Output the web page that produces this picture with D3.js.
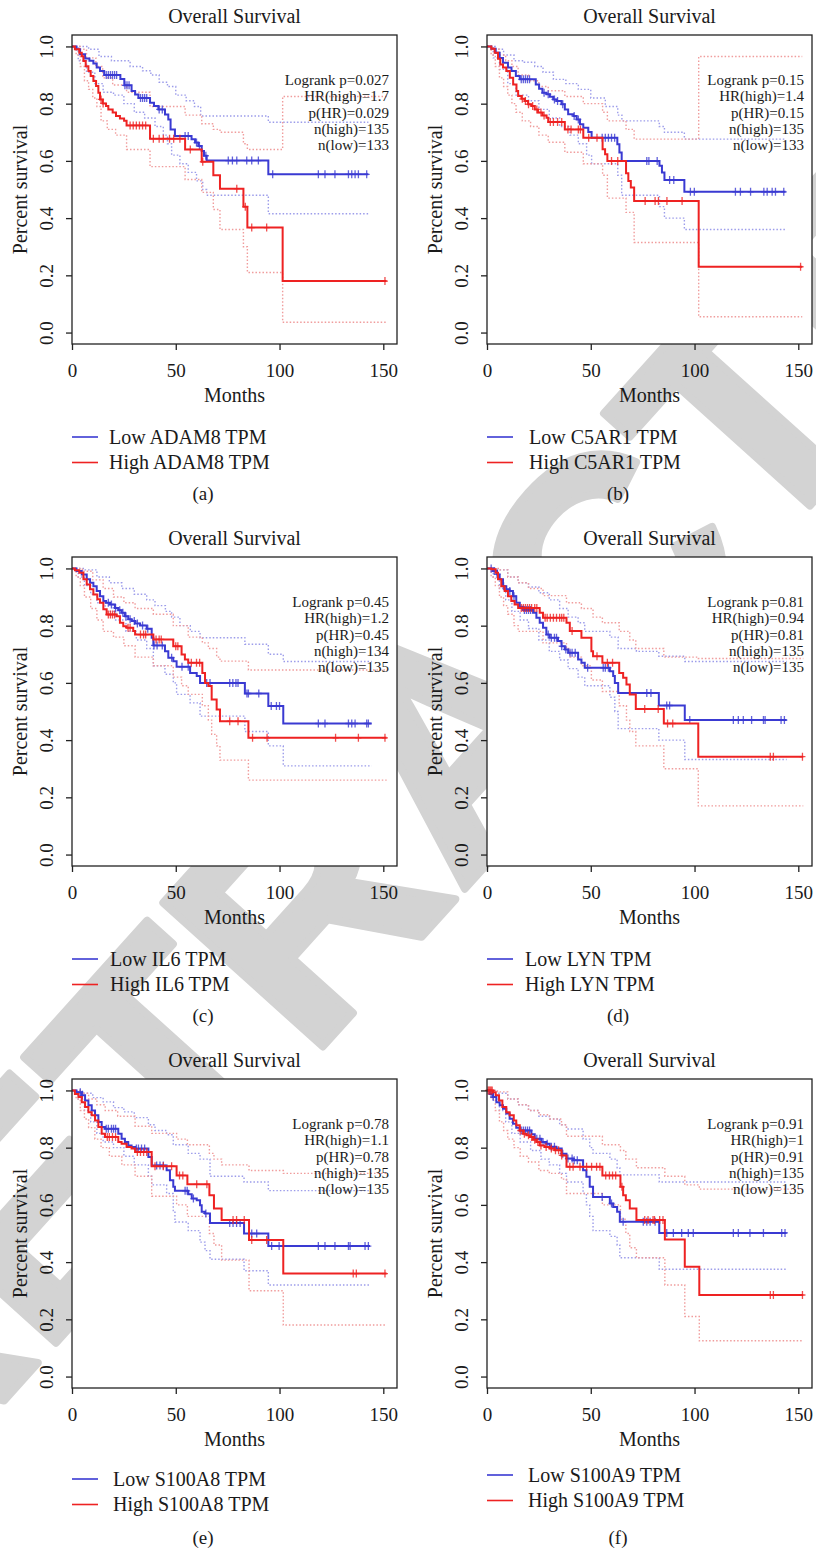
<!DOCTYPE html>
<html><head><meta charset="utf-8">
<script src="https://cdn.jsdelivr.net/npm/d3@7"></script>
<style>html,body{margin:0;padding:0;background:#fff;}svg{display:block;}</style>
</head><body>
<script>
// ---------------- DATA ----------------
const genes = ["ADAM8","C5AR1","IL6","LYN","S100A8","S100A9"];
const captions = ["(a)","(b)","(c)","(d)","(e)","(f)"];
const logrankP = ["0.027","0.15","0.45","0.81","0.78","0.91"];
const hrHigh = ["1.7","1.4","1.2","0.94","1.1","1"];
const pHR = ["0.029","0.15","0.45","0.81","0.78","0.91"];
const nHigh = [135,135,134,135,135,135];
const nLow = [133,133,135,135,135,135];
const xTicks = [0,50,100,150];
const yTicks = [0,0.2,0.4,0.6,0.8,1.0];

// (a) ADAM8
const aLow = [[0,1],[2.2,0.99],[3.9,0.973],[6.3,0.958],[8.4,0.95],[10.3,0.94],[11.9,0.926],[13.5,0.914],[15.5,0.9],[23.3,0.886],[25.2,0.864],[28.7,0.844],[30.4,0.832],[32,0.82],[37.6,0.803],[39.5,0.792],[41.6,0.78],[44.8,0.762],[46.4,0.745],[47.5,0.71],[49.6,0.687],[57.6,0.676],[59.3,0.664],[60.9,0.652],[62.5,0.635],[63.6,0.618],[64.9,0.601],[94.6,0.553],[142.8,0.553]];
const aHigh = [[0,1],[1.4,0.99],[3.5,0.978],[4.7,0.966],[5.5,0.949],[6.6,0.931],[7.9,0.914],[9,0.897],[10.3,0.879],[11.6,0.862],[12.7,0.838],[13.5,0.815],[14.8,0.801],[16.4,0.792],[17.5,0.78],[19.6,0.769],[21.2,0.757],[23.1,0.748],[25.1,0.74],[26.3,0.724],[37.6,0.677],[54.5,0.64],[62.5,0.597],[68.1,0.55],[71.3,0.503],[82.6,0.44],[84.5,0.367],[101.5,0.18],[151.6,0.18]];
const aLowUp = [[0,1],[8,0.99],[13,0.965],[19,0.95],[28,0.93],[34,0.915],[38,0.9],[42,0.875],[46,0.86],[50,0.83],[55,0.81],[59,0.79],[62,0.757],[94.6,0.735],[142.8,0.735]];
const aLowLo = [[0,1],[3,0.95],[7,0.91],[11,0.87],[15,0.84],[20,0.83],[25,0.8],[30,0.77],[35,0.75],[40,0.72],[44,0.69],[46,0.66],[48,0.62],[52,0.59],[56,0.56],[60,0.53],[63,0.5],[64.9,0.48],[94.6,0.415],[142.8,0.415]];
const aHighUp = [[0,1],[4,0.99],[7,0.96],[11.5,0.93],[14.8,0.89],[19.6,0.865],[26.3,0.84],[37.6,0.79],[54.5,0.76],[62.5,0.73],[68.1,0.71],[71.3,0.7],[82.6,0.66],[84.5,0.64],[101.5,0.825],[151.6,0.825]];
const aHighLo = [[0,1],[2,0.97],[4,0.93],[6,0.88],[8,0.85],[10,0.82],[12,0.79],[14,0.74],[17,0.71],[21,0.69],[26.3,0.64],[37.6,0.58],[54.5,0.535],[62.5,0.49],[68.1,0.43],[71.3,0.36],[82.6,0.3],[84.5,0.21],[101.5,0.036],[151.6,0.036]];
const aLowCens = [16.5,17.5,18.5,19.5,20.5,21.5,25.5,26.5,27.5,33,34,35,36,42,43.5,54.5,56,60,61.4,64.5,75.3,77.3,79.4,84.2,86.6,89.8,96.7,118.7,121.9,126.7,133.2,134.8,136.4,138,142];
const aHighCens = [14,15,28,29.5,31,32.5,34,35.5,39.2,42,44,47,49,52,57,63,79.4,83.5,86.6,93.8,150.8];

// (b) C5AR1
const bLow = [[0,1],[2.1,0.992],[4.2,0.978],[6.1,0.96],[7.7,0.943],[10.1,0.926],[11.8,0.914],[13.9,0.897],[15.8,0.885],[23.5,0.867],[25.1,0.852],[26.7,0.838],[28.7,0.833],[30.3,0.824],[31.9,0.815],[33.5,0.809],[35.9,0.798],[37.5,0.78],[39.1,0.763],[41.6,0.757],[43.2,0.745],[44.8,0.728],[46.4,0.716],[48.8,0.701],[50.4,0.681],[62.8,0.658],[63.8,0.629],[64.9,0.6],[83.1,0.583],[84.3,0.559],[85.5,0.533],[95.1,0.492],[143.9,0.492]];
const bHigh = [[0,1],[2.1,0.992],[3.7,0.978],[5.3,0.957],[6.4,0.937],[7.7,0.926],[9.3,0.914],[11,0.891],[12.6,0.867],[14.2,0.844],[15,0.827],[16.6,0.817],[18.2,0.809],[19.8,0.798],[21.4,0.792],[23,0.78],[24.6,0.769],[26.7,0.759],[28.7,0.751],[29.5,0.736],[37.5,0.71],[46.4,0.681],[55.7,0.641],[56.9,0.623],[58,0.6],[67,0.557],[68.1,0.53],[69.3,0.507],[70.9,0.46],[102,0.23],[151.9,0.23]];
const bLowUp = [[0,1],[4,0.99],[8,0.97],[13,0.95],[18,0.945],[23,0.93],[27,0.91],[32,0.885],[38,0.87],[44,0.85],[50,0.82],[57,0.79],[63,0.76],[65,0.74],[83,0.72],[85.5,0.7],[95.1,0.676],[143.9,0.676]];
const bLowLo = [[0,1],[3,0.96],[6,0.92],[10,0.87],[14,0.83],[20,0.81],[25,0.78],[30,0.75],[35,0.72],[40,0.69],[44,0.66],[48,0.62],[50.4,0.59],[63,0.55],[64.9,0.48],[83.1,0.44],[85.5,0.4],[95.1,0.36],[143.9,0.36]];
const bHighUp = [[0,1],[3,0.99],[6,0.97],[9,0.95],[12,0.93],[15,0.9],[20,0.88],[25,0.86],[29.5,0.845],[37.5,0.825],[46.4,0.8],[55.7,0.77],[58,0.74],[67,0.71],[70.9,0.676],[102,0.965],[151.9,0.965]];
const bHighLo = [[0,1],[2,0.97],[4,0.93],[6,0.89],[8,0.86],[10,0.83],[12,0.8],[14,0.77],[17,0.74],[21,0.72],[25,0.69],[29.5,0.665],[37.5,0.63],[46.4,0.59],[55.7,0.55],[58,0.47],[67,0.42],[70.9,0.315],[102,0.055],[151.9,0.055]];
const bLowCens = [16.5,17.5,18.5,19.5,20.5,27.5,29.5,32.5,34,36.5,42,44,55.5,57,58.5,60,61.5,77,78,82,88,90,98,99.9,119.7,122.1,127,133.4,135,137.4,139,143];
const bHighCens = [17,18.5,20,22,24,26,27.5,30.5,32,34,36,39,40.5,44,45,49,53,60,63,76.2,81,82.6,86.7,94,151.1];

// (c) IL6
const cLow = [[0,1],[2.2,0.991],[4.7,0.979],[7.1,0.962],[8.7,0.95],[10.3,0.938],[11.9,0.921],[13.5,0.903],[15.1,0.886],[16.4,0.88],[18.3,0.874],[20.7,0.862],[22.3,0.854],[23.9,0.845],[25.5,0.833],[27.1,0.822],[28.7,0.816],[30.4,0.808],[32.8,0.801],[36,0.789],[38.4,0.758],[39.2,0.731],[44.8,0.711],[46.4,0.688],[48.8,0.676],[50.4,0.656],[56.9,0.635],[60.1,0.624],[61.7,0.6],[83.3,0.563],[94.6,0.519],[101.8,0.458],[144.4,0.458]];
const cHigh = [[0,1],[1.4,0.994],[3.5,0.985],[5.5,0.962],[7.1,0.944],[8.7,0.927],[10.3,0.909],[12.2,0.892],[13.5,0.88],[15.1,0.857],[16.7,0.839],[21.5,0.833],[23.1,0.81],[24.7,0.798],[26.3,0.793],[29.5,0.781],[30.4,0.769],[39.2,0.752],[48.8,0.728],[52.8,0.699],[54.4,0.682],[56,0.67],[62.8,0.635],[64.1,0.6],[65.7,0.589],[67.3,0.542],[69.7,0.507],[71.3,0.466],[85,0.408],[151.6,0.408]];
const cLowUp = [[0,1],[6,0.995],[12,0.97],[18,0.95],[24,0.93],[30,0.91],[36,0.89],[40,0.87],[45,0.85],[48,0.83],[52,0.8],[57,0.78],[61.7,0.758],[83.3,0.735],[94.6,0.7],[101.8,0.675],[144.4,0.675]];
const cLowLo = [[0,1],[3,0.97],[6,0.94],[9,0.91],[12,0.88],[16,0.85],[21,0.82],[26,0.78],[31,0.75],[36,0.72],[39.2,0.66],[44.8,0.63],[48.8,0.6],[50.4,0.56],[56.9,0.53],[61.7,0.484],[83.3,0.43],[94.6,0.38],[101.8,0.31],[144.4,0.31]];
const cHighUp = [[0,1],[5,0.99],[10,0.96],[15,0.93],[20,0.9],[25,0.88],[30.4,0.86],[39.2,0.84],[48.8,0.8],[56,0.76],[62.8,0.74],[65.7,0.72],[69.7,0.69],[71.3,0.676],[85,0.645],[151.6,0.645]];
const cHighLo = [[0,1],[2,0.97],[4,0.94],[6,0.9],[9,0.86],[12,0.82],[15,0.78],[20,0.76],[25,0.73],[30.4,0.69],[39.2,0.66],[48.8,0.62],[52.8,0.59],[56,0.56],[62.8,0.52],[65.7,0.47],[67.3,0.42],[69.7,0.38],[71.3,0.33],[85,0.26],[151.6,0.26]];
const cLowCens = [17.5,19,21,23,24.5,26,28,30,31.5,34,36.5,39.5,41,43.5,48,53,56,64.9,66.5,76,77.5,79,80,84.3,85,90,96,98.5,100,118.7,121.9,133.2,134.8,136.4,142,142.8];
const cHighCens = [17.5,18.5,19.5,20.5,27,28,33,34.5,35.5,40.5,42,43,50,51,57.5,60,61.5,76,80,87,94,127,138,150.8];

// (d) LYN
const dLow = [[0,1],[2.9,0.991],[4.8,0.979],[6.1,0.962],[7.7,0.938],[9.3,0.927],[10.9,0.921],[12.5,0.903],[14.1,0.88],[15.8,0.866],[17.4,0.855],[22.2,0.845],[23.8,0.828],[25.4,0.81],[27,0.793],[28.6,0.769],[30.2,0.758],[34.2,0.746],[35.9,0.728],[37.5,0.717],[39.1,0.705],[43.9,0.682],[45.5,0.67],[47.1,0.653],[59.2,0.641],[60.8,0.624],[61.6,0.6],[63.2,0.565],[82.8,0.521],[95.3,0.47],[144.4,0.47]];
const dHigh = [[0,1],[2.1,0.997],[4.2,0.985],[5.3,0.962],[6.9,0.938],[8.5,0.921],[10.1,0.903],[11.7,0.886],[13.3,0.874],[15,0.862],[25.4,0.845],[27,0.828],[38.3,0.81],[39.9,0.781],[45.5,0.758],[50.3,0.711],[51.1,0.693],[55.6,0.67],[63.7,0.635],[65.6,0.618],[67.2,0.594],[68.8,0.559],[71.7,0.509],[85.2,0.458],[101.8,0.342],[152.4,0.342]];
const dLowUp = [[0,1],[5,0.995],[10,0.97],[15,0.95],[20,0.935],[25,0.915],[30,0.89],[35,0.86],[39.1,0.83],[43.9,0.81],[47.1,0.78],[59.2,0.76],[63.2,0.72],[72,0.71],[82.8,0.693],[95.3,0.675],[144.4,0.675]];
const dLowLo = [[0,1],[3,0.97],[6,0.93],[9,0.89],[12,0.85],[16,0.82],[20,0.79],[25,0.75],[30,0.71],[35,0.68],[39.1,0.65],[43.9,0.62],[47.1,0.59],[59.2,0.55],[61.6,0.5],[63.2,0.44],[82.8,0.4],[95.3,0.332],[144.4,0.332]];
const dHighUp = [[0,1],[6,0.995],[10,0.97],[15,0.95],[20,0.93],[27,0.905],[38.3,0.88],[45.5,0.86],[51.1,0.83],[55.6,0.81],[63.7,0.78],[68.8,0.75],[71.7,0.72],[85.2,0.69],[101.8,0.685],[152.4,0.685]];
const dHighLo = [[0,1],[2,0.97],[4,0.94],[6,0.9],[8,0.87],[10,0.84],[13,0.8],[15,0.78],[27,0.74],[38.3,0.72],[39.9,0.69],[45.5,0.66],[50.3,0.61],[55.6,0.57],[63.7,0.52],[67.2,0.47],[68.8,0.43],[71.7,0.38],[85.2,0.3],[101.8,0.17],[152.4,0.17]];
const dLowCens = [2,3.5,5,8,11,13,18,19,20,21,29.5,31,32.5,33.5,36,38,40,41,42.5,48.5,56,57,58.5,77,79,86.6,88,97.7,118.7,121.1,123.5,127.5,133.2,134,141.7,143.3];
const dHighCens = [16.5,17.5,18.5,19.5,20.5,21.5,23,24,28,29,30.5,32,33.5,35,36,37,41,53,58,60.5,76,82.5,87,89.5,136.5,138,152];

// (e) S100A8
const eLow = [[0,1],[2.2,0.994],[4.7,0.983],[6.3,0.965],[7.9,0.948],[9.5,0.93],[11.1,0.913],[12.7,0.89],[14.3,0.872],[15.9,0.866],[22.3,0.849],[23.9,0.831],[25.5,0.82],[27.1,0.808],[28.7,0.802],[30.4,0.797],[36.8,0.767],[38.4,0.738],[45.6,0.721],[47.2,0.686],[48.8,0.663],[49.6,0.649],[56,0.637],[57.7,0.622],[60.1,0.616],[61.7,0.599],[62.5,0.576],[64.1,0.57],[66.5,0.537],[82.9,0.5],[94.6,0.456],[143.6,0.456]];
const eHigh = [[0,1],[1.4,0.988],[3.1,0.977],[4.7,0.959],[6.3,0.942],[7.9,0.924],[9.5,0.913],[11.1,0.895],[12.7,0.872],[14.3,0.849],[15.9,0.837],[22.3,0.82],[23.9,0.814],[26.3,0.802],[28.7,0.797],[30.4,0.785],[38.4,0.735],[50.4,0.703],[55.6,0.672],[66.2,0.634],[68.4,0.587],[72.1,0.547],[85.3,0.477],[101.8,0.36],[151.6,0.36]];
const eLowUp = [[0,1],[5,0.99],[10,0.975],[15,0.96],[20,0.94],[25,0.925],[30,0.905],[36.8,0.88],[40,0.86],[45.6,0.845],[48.8,0.81],[56,0.78],[61.7,0.76],[66.5,0.7],[82.9,0.68],[94.6,0.65],[143.6,0.65]];
const eLowLo = [[0,1],[3,0.97],[6,0.93],[9,0.89],[12,0.85],[15,0.82],[20,0.8],[25,0.77],[30,0.74],[36.8,0.7],[38.4,0.67],[45.6,0.64],[48.8,0.58],[49.6,0.54],[56,0.51],[61.7,0.47],[64.1,0.44],[66.5,0.41],[82.9,0.37],[94.6,0.32],[143.6,0.32]];
const eHighUp = [[0,1],[4,0.99],[8,0.97],[12,0.95],[16,0.93],[22,0.91],[30.4,0.875],[38.4,0.85],[50.4,0.83],[55.6,0.81],[66.2,0.78],[68.4,0.76],[72.1,0.74],[85.3,0.72],[101.8,0.71],[151.6,0.71]];
const eHighLo = [[0,1],[2,0.97],[4,0.93],[6,0.9],[8,0.87],[11,0.83],[14,0.8],[18,0.77],[24,0.74],[30.4,0.7],[38.4,0.63],[50.4,0.6],[55.6,0.56],[66.2,0.5],[68.4,0.46],[72.1,0.407],[85.3,0.3],[101.8,0.18],[151.6,0.18]];
const eLowCens = [4,5,16.5,17.5,19,20,21,31,32,33.5,35,40.8,42.4,44,54.5,55.5,58.5,64.5,76,77.6,79.3,81,86.6,89,96.2,99.8,118.7,121.9,126.7,133.2,134,141.2,142.8];
const eHighCens = [17,18,19.5,21,31.5,33,34.5,36,40,44,48,51.8,53.4,60.1,65,77.6,79.3,83,86.6,93.8,135.5,137,150.8];

// (f) S100A9
const fLow = [[0,1],[1.3,0.988],[2.9,0.977],[4.5,0.959],[6.1,0.948],[7.7,0.936],[9.3,0.919],[10.9,0.901],[12.5,0.884],[14.1,0.87],[15.8,0.86],[21.4,0.847],[23,0.831],[26.2,0.82],[28.6,0.814],[30.2,0.803],[33.4,0.797],[36,0.779],[38.3,0.762],[41.5,0.756],[46.3,0.721],[47.9,0.698],[49.5,0.663],[51.1,0.628],[59.2,0.605],[60.8,0.593],[62.7,0.576],[64,0.541],[83,0.502],[144.4,0.502]];
const fHigh = [[0,1],[2.9,0.994],[4.2,0.983],[5.8,0.965],[7.4,0.942],[9.3,0.924],[10.9,0.913],[12.9,0.895],[14.1,0.878],[15.8,0.86],[17.4,0.849],[19,0.843],[20.6,0.837],[22.2,0.828],[23.8,0.82],[25.4,0.808],[27.8,0.802],[30.2,0.797],[32.6,0.791],[35.9,0.773],[38.3,0.733],[55.6,0.703],[64.3,0.663],[65.6,0.634],[66.9,0.616],[68.8,0.587],[72,0.547],[85.7,0.479],[95.3,0.384],[102.3,0.285],[152.4,0.285]];
const fLowUp = [[0,1],[5,0.99],[10,0.97],[15,0.95],[20,0.93],[25,0.91],[30,0.9],[35,0.88],[38.3,0.865],[46.3,0.83],[49.5,0.8],[51.1,0.78],[59.2,0.76],[62.7,0.73],[64,0.705],[83,0.68],[144.4,0.68]];
const fLowLo = [[0,1],[3,0.97],[6,0.93],[9,0.89],[12,0.85],[16,0.82],[21,0.79],[26,0.76],[30,0.74],[35,0.71],[38.3,0.68],[46.3,0.64],[47.9,0.6],[49.5,0.56],[51.1,0.51],[59.2,0.49],[62.7,0.46],[64,0.415],[83,0.375],[144.4,0.375]];
const fHighUp = [[0,1],[5,0.995],[10,0.97],[15,0.95],[20,0.93],[25,0.915],[30.2,0.9],[35.9,0.88],[38.3,0.84],[55.6,0.81],[64.3,0.79],[66.9,0.76],[72,0.73],[85.7,0.7],[95.3,0.67],[102.3,0.655],[152.4,0.655]];
const fHighLo = [[0,1],[2,0.97],[4,0.93],[6,0.89],[8,0.86],[10,0.83],[13,0.8],[16,0.77],[20,0.75],[25,0.72],[30,0.71],[35.9,0.69],[38.3,0.64],[55.6,0.6],[64.3,0.55],[66.9,0.5],[68.8,0.45],[72,0.415],[85.7,0.32],[95.3,0.21],[102.3,0.125],[152.4,0.125]];
const fLowCens = [2,3,16.5,17.5,18.5,19.5,20.5,24,25.5,27,29,31,32.5,36.5,39,41,42,43.5,55.5,60,65.6,75.3,77,78.6,81,86.6,89.8,93.8,97,99.4,118.7,121.1,126.7,133.2,142,143.6];
const fHighCens = [0.5,1,1.5,2,2.5,16,18,20,21.5,23,24.5,26,28.5,31,33,34.5,36,39.9,41.5,44.8,48,50.4,52.8,54.4,57.2,59,60.5,62,65,76,77.6,80,80.7,83.2,84.8,136.5,138,152];

// ---------------- LAYOUT ----------------
const lowCurves = [aLow,bLow,cLow,dLow,eLow,fLow];
const highCurves = [aHigh,bHigh,cHigh,dHigh,eHigh,fHigh];
const lowUp = [aLowUp,bLowUp,cLowUp,dLowUp,eLowUp,fLowUp];
const lowLo = [aLowLo,bLowLo,cLowLo,dLowLo,eLowLo,fLowLo];
const highUp = [aHighUp,bHighUp,cHighUp,dHighUp,eHighUp,fHighUp];
const highLo = [aHighLo,bHighLo,cHighLo,dHighLo,eHighLo,fHighLo];
const lowCens = [aLowCens,bLowCens,cLowCens,dLowCens,eLowCens,fLowCens];
const highCens = [aHighCens,bHighCens,cHighCens,dHighCens,eHighCens,fHighCens];

const W = 816, H = 1559;
const boxLefts = [72,487,72,487,72,487];
const boxTops = [35,35,557,557,1079,1079];
const boxW = 325, boxH = 309;
const legTextDx = [37,42,38,38,41,41];
const legDy = [93,93,93,93,91,87];

const BLUE = "#3a3ad2", RED = "#ee2222";
const BLUE_CI = "#9c9cea", RED_CI = "#f09c9c";
const SERIF = "'Liberation Serif','DejaVu Serif',serif";
const TXT = "#1a1a1a";

const svg = d3.select("body").append("svg").attr("width", W).attr("height", H)
  .style("font-family", SERIF);
svg.append("rect").attr("width", W).attr("height", H).attr("fill", "#fff");

// watermark (clipped to the page)
svg.append("clipPath").attr("id", "pageClip").append("rect").attr("width", W).attr("height", H);
const wmSize = 312;
svg.append("g").attr("clip-path", "url(#pageClip)")
  .append("g").attr("transform", "translate(452,736) rotate(-48)")
  .append("text")
  .attr("x", 0).attr("y", wmSize * 0.358)
  .attr("text-anchor", "middle")
  .style("font-family", "'Liberation Sans','DejaVu Sans',sans-serif")
  .style("font-weight", "bold")
  .style("font-size", wmSize + "px")
  .attr("fill", "#d3d3d3")
  .attr("stroke", "#d3d3d3").attr("stroke-width", 8).attr("stroke-linejoin", "round")
  .text("RETRACTED");

function stepAt(curve, t) {
  let s = curve[0][1];
  for (const p of curve) { if (p[0] <= t) s = p[1]; else break; }
  return s;
}

for (let i = 0; i < 6; i++) {
  const L = boxLefts[i], T = boxTops[i];
  const x = d3.scaleLinear().domain([0, 156.6]).range([L, L + boxW]);
  const y = d3.scaleLinear().domain([-0.04, 1.04]).range([T + boxH, T]);
  const g = svg.append("g");
  const line = d3.line().x(d => x(d[0])).y(d => y(d[1])).curve(d3.curveStepAfter);

  g.append("rect").attr("x", L).attr("y", T).attr("width", boxW).attr("height", boxH).attr("fill", "#fff");

  // CI
  [[lowUp[i], BLUE_CI], [lowLo[i], BLUE_CI], [highUp[i], RED_CI], [highLo[i], RED_CI]].forEach(([c, col]) => {
    g.append("path").attr("d", line(c)).attr("fill", "none").attr("stroke", col)
      .attr("stroke-width", 1.4).attr("stroke-dasharray", "1.5,2");
  });

  // stats text
  const stats = ["Logrank p=" + logrankP[i], "HR(high)=" + hrHigh[i], "p(HR)=" + pHR[i],
                 "n(high)=" + nHigh[i], "n(low)=" + nLow[i]];
  stats.forEach((s, k) => {
    g.append("text").attr("x", L + boxW - 8).attr("y", T + 50 + k * 16.3)
      .attr("text-anchor", "end").style("font-size", "15px").attr("fill", TXT).text(s);
  });

  // curves
  [[lowCurves[i], lowCens[i], BLUE], [highCurves[i], highCens[i], RED]].forEach(([c, cens, col]) => {
    g.append("path").attr("d", line(c)).attr("fill", "none").attr("stroke", col).attr("stroke-width", 2);
    g.selectAll(null).data(cens).enter().append("path")
      .attr("d", t => {
        const cx = x(t), cy = y(stepAt(c, t));
        return `M${cx},${cy - 4}V${cy + 4}M${cx - 3},${cy}H${cx + 3}`;
      })
      .attr("stroke", col).attr("stroke-width", 1.3).attr("opacity", 0.8).attr("fill", "none");
  });

  // box
  g.append("rect").attr("x", L).attr("y", T).attr("width", boxW).attr("height", boxH)
    .attr("fill", "none").attr("stroke", "#222").attr("stroke-width", 1.3);

  // axes
  const xa = g.append("g").attr("transform", `translate(0,${T + boxH})`)
    .call(d3.axisBottom(x).tickValues(xTicks).tickFormat(d3.format("d")).tickSize(6).tickSizeOuter(0));
  xa.select(".domain").remove();
  xa.selectAll("line").attr("stroke", "#222").attr("stroke-width", 1.3);
  xa.selectAll("text").attr("y", 33).attr("dy", null).attr("fill", TXT)
    .style("font-size", "19px").style("font-family", SERIF);
  const ya = g.append("g").attr("transform", `translate(${L},0)`)
    .call(d3.axisLeft(y).tickValues(yTicks).tickFormat(d3.format(".1f")).tickSize(6).tickSizeOuter(0));
  ya.select(".domain").remove();
  ya.selectAll("line").attr("stroke", "#222").attr("stroke-width", 1.3);
  ya.selectAll("text").attr("x", 0).attr("dy", null).attr("text-anchor", "middle")
    .attr("transform", "translate(-19,0) rotate(-90)").attr("fill", TXT)
    .style("font-size", "19px").style("font-family", SERIF);

  // titles
  g.append("text").attr("x", L + boxW / 2).attr("y", T - 12).attr("text-anchor", "middle")
    .style("font-size", "20px").attr("fill", TXT).text("Overall Survival");
  g.append("text").attr("x", L + boxW / 2).attr("y", T + boxH + 58).attr("text-anchor", "middle")
    .style("font-size", "20px").attr("fill", TXT).text("Months");
  g.append("text").attr("transform", `translate(${L - 45},${T + boxH / 2}) rotate(-90)`)
    .attr("text-anchor", "middle").style("font-size", "20px").attr("fill", TXT).text("Percent survival");

  // legend
  const ly = T + boxH + legDy[i];
  [["Low " + genes[i] + " TPM", BLUE, 0], ["High " + genes[i] + " TPM", RED, 25.5]].forEach(([lab, col, off]) => {
    g.append("line").attr("x1", L).attr("x2", L + 26).attr("y1", ly + off).attr("y2", ly + off)
      .attr("stroke", col).attr("stroke-width", 1.6);
    g.append("text").attr("x", L + legTextDx[i]).attr("y", ly + off + 6.5)
      .style("font-size", "20px").attr("fill", TXT).text(lab);
  });

  // caption
  g.append("text").attr("x", L + 131).attr("y", T + boxH + 156).attr("text-anchor", "middle")
    .style("font-size", "19px").attr("fill", TXT).text(captions[i]);
}
</script>
</body></html>
